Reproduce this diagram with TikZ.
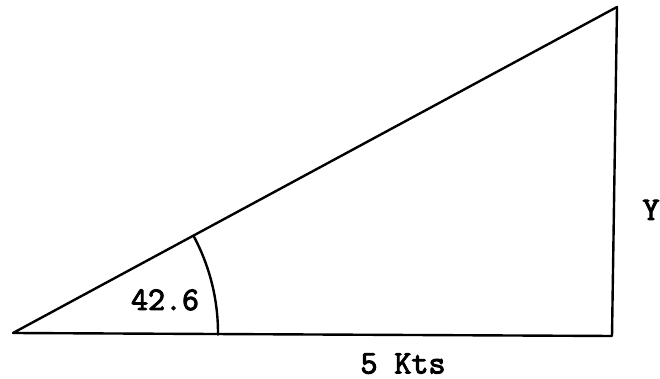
\documentclass[tikz,border=0pt]{standalone}
\usepackage{fontspec}
\newfontfamily\typew[FakeBold=3]{Latin Modern Mono}
\begin{document}
\begin{tikzpicture}[x=1pt,y=1pt,
  edge/.style={line width=2.4pt,line join=round,line cap=round},
  lbl/.style={font=\typew\fontsize{33}{34}\selectfont,inner sep=0pt,anchor=base}]
\useasboundingbox (0,0) rectangle (660,379);
\coordinate (A) at (13,46);
\coordinate (B) at (612,43);
\coordinate (C) at (617,372);
\draw[edge] (A) -- (C) -- (B) -- cycle;
\draw[edge] ([shift={(-0.5:205)}]A) arc[start angle=-0.5,end angle=28.3,radius=205];
\node[lbl] (ang) at (165,69) {42.6};
\node[lbl] (y) at (651,159) {Y};
\node[lbl] (x) at (403,5.5) {5 Kts};
\end{tikzpicture}
\end{document}
